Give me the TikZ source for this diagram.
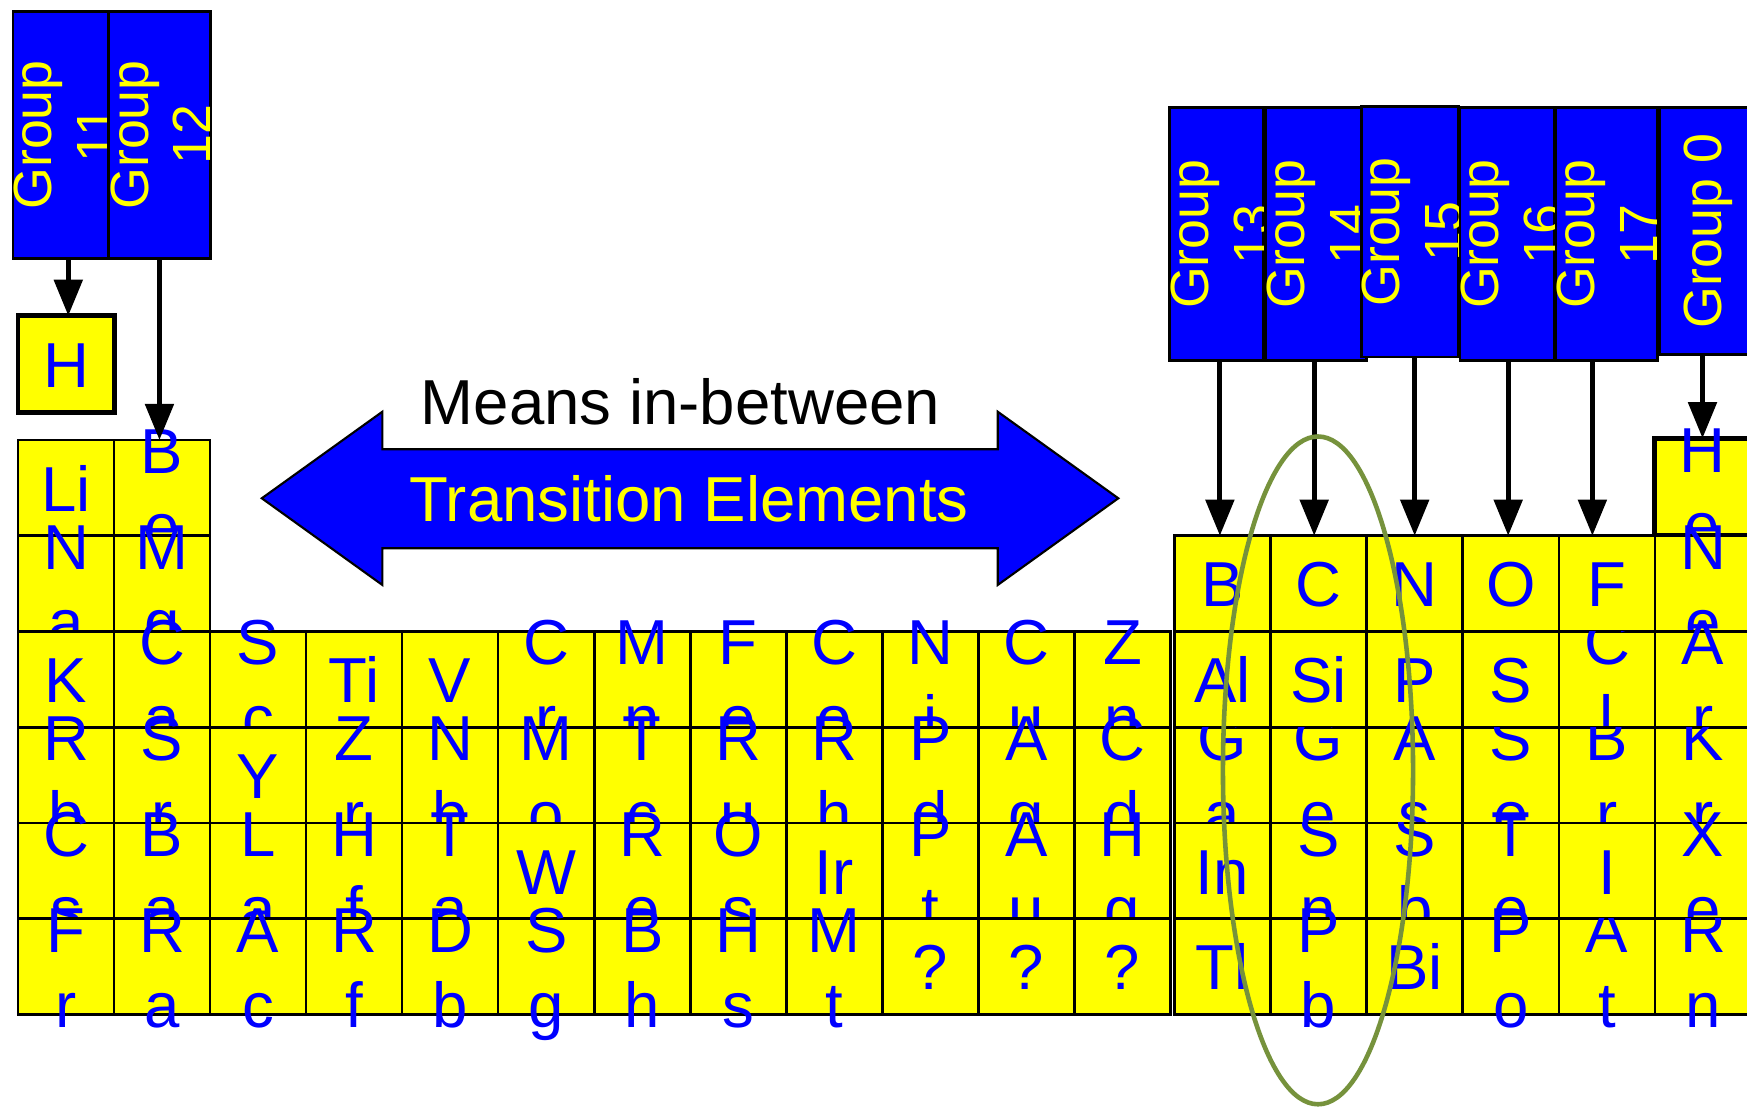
\documentclass[tikz,border=0pt]{standalone}
\usepackage{fontspec}
\usetikzlibrary{arrows.meta,calc}
\newfontfamily\arialf{Liberation Sans}
\definecolor{elblue}{HTML}{0000FF}
\definecolor{elyellow}{HTML}{FFFF00}
\definecolor{ovalgreen}{HTML}{76923C}
\newcommand\elfont{\arialf\fontsize{18.07}{21.6}\selectfont}
\newcommand\grfont{\arialf\fontsize{15.3}{18}\selectfont}
\tikzset{
  cell/.style={draw=black, fill=elyellow, line width=0.75pt, minimum width=0.961cm, minimum height=0.9575cm, inner sep=0pt, outer sep=0pt},
  thickcell/.style={cell, line width=1.3pt},
  sym/.style={anchor=base, inner sep=0pt, text=elblue, font=\elfont},
  grpbox/.style={draw=black, fill=elblue, line width=0.75pt, inner sep=0pt, outer sep=0pt},
  grptext/.style={rotate=90, anchor=base, inner sep=0pt, text=elyellow, font=\grfont},
  garrow/.style={draw=black, line width=1.45pt, -{Triangle[width=0.28cm,length=0.36cm]}},
  bigtext/.style={anchor=base, inner sep=0pt, font=\elfont},
}
% one-line symbol
\newcommand\cellOne[4]{%
  \node[cell] (#1) at (#2,#3) {};
  \node[sym] (#1-a) at (#2,#3+23.2) {#4};}
% symbol wrapped on two lines
\newcommand\cellTwo[5]{%
  \node[cell] (#1) at (#2,#3) {};
  \node[sym] (#1-a) at (#2,#3-14.6) {#4};
  \node[sym] (#1-b) at (#2,#3+61) {#5};}
% two lines, text hidden above the cell top
\newcommand\cellClip[5]{%
  \node[cell] (#1) at (#2,#3) {};
  \begin{scope}
    \clip (#2-48,#3-47.9) rectangle (#2+48,1110);
    \node[sym] (#1-a) at (#2,#3-14.6) {#4};
    \node[sym] (#1-b) at (#2,#3+61) {#5};
  \end{scope}}
\begin{document}
\begin{tikzpicture}[x=0.01cm, y=-0.01cm]
\useasboundingbox (0,0) rectangle (1747,1110);
\clip (0,0) rectangle (1747,1110);
\fill[white] (0,0) rectangle (1747,1110);

% ---------- group boxes ----------
\node[grpbox, minimum width=1.016cm, minimum height=2.474cm] (g11) at (63.7,135) {};
\node[grptext] (g11-a) at (51.7,135) {Group};
\node[grptext] (g11-b) at (114.5,135) {11};
\node[grpbox, minimum width=1.019cm, minimum height=2.474cm] (g12) at (159.45,135) {};
\node[grptext] (g12-a) at (148.3,135) {Group};
\node[grptext] (g12-b) at (210.7,135) {12};

\node[grpbox, minimum width=0.935cm, minimum height=2.526cm] (g13) at (1216.15,234.2) {};
\node[grptext] (g13-a) at (1208.7,234.2) {Group};
\node[grptext] (g13-b) at (1271.7,234.2) {13};
\node[grpbox, minimum width=1.013cm, minimum height=2.526cm] (g14) at (1315.95,234.2) {};
\node[grptext] (g14-a) at (1304.1,234.2) {Group};
\node[grptext] (g14-b) at (1367.1,234.2) {14};
\node[grpbox, minimum width=0.968cm, minimum height=2.502cm] (g15) at (1409.9,232) {};
\node[grptext] (g15-a) at (1399.6,232) {Group};
\node[grptext] (g15-b) at (1462.6,232) {15};
\node[grpbox, minimum width=0.938cm, minimum height=2.526cm] (g16) at (1506.9,234.2) {};
\node[grptext] (g16-a) at (1498.8,234.2) {Group};
\node[grptext] (g16-b) at (1561.8,234.2) {16};
\node[grpbox, minimum width=1.013cm, minimum height=2.526cm] (g17) at (1606.85,234.2) {};
\node[grptext] (g17-a) at (1594.3,234.2) {Group};
\node[grptext] (g17-b) at (1657.3,234.2) {17};
\node[grpbox, minimum width=1.101cm, minimum height=2.466cm] (g0) at (1714.95,231.2) {};
\node[grptext] (g0-a) at (1721.6,231.2) {Group 0};

% ---------- transition arrow ----------
\draw[fill=elblue, draw=black, line width=0.6pt]
  (261.8,498.3) -- (382.4,411.7) -- (382.4,449.3) -- (997.7,449.3) -- (997.7,411.7)
  -- (1118.3,498.3) -- (997.7,585) -- (997.7,548.3) -- (382.4,548.3) -- (382.4,585) -- cycle;
\node[bigtext, text=black] (means) at (680.6,425) {Means in-between};
\node[bigtext, text=elyellow] (trans) at (689,521.7) {Transition Elements};

% ---------- H and He ----------
\node[thickcell, minimum width=0.96cm, minimum height=0.967cm] (H) at (66.2,364.15) {};
\node[sym] (H-a) at (66.2,387.4) {H};
\node[thickcell, minimum width=0.96cm, minimum height=0.9745cm] (He) at (1702.5,487) {};
\node[sym] (He-a) at (1702.5,472.4) {H};
\node[sym] (He-b) at (1702.5,548) {e};

% ---------- row 0 ----------
\cellOne{Li}{66.02}{487.875}{Li}
\cellTwo{Be}{162.06}{487.875}{B}{e}
% ---------- row 1 ----------
\cellTwo{Na}{66.02}{583.625}{N}{a}
\cellTwo{Mg}{162.06}{583.625}{M}{g}
\cellOne{B}{1222.4}{583.625}{B}
\cellOne{C}{1318.5}{583.625}{C}
\cellOne{N}{1414.7}{583.625}{N}
\cellOne{O}{1510.8}{583.625}{O}
\cellOne{F}{1607.0}{583.625}{F}
\cellTwo{Ne}{1703.1}{583.625}{N}{e}
% ---------- row 2 ----------
\cellOne{K}{66.02}{679.375}{K}
\cellTwo{Ca}{162.06}{679.375}{C}{a}
\cellTwo{Sc}{258.10}{679.375}{S}{c}
\cellOne{Ti}{354.14}{679.375}{Ti}
\cellOne{V}{450.18}{679.375}{V}
\cellTwo{Cr}{546.22}{679.375}{C}{r}
\cellTwo{Mn}{642.26}{679.375}{M}{n}
\cellTwo{Fe}{738.30}{679.375}{F}{e}
\cellTwo{Co}{834.34}{679.375}{C}{o}
\cellTwo{Ni}{930.38}{679.375}{N}{i}
\cellTwo{Cu}{1026.42}{679.375}{C}{u}
\cellTwo{Zn}{1122.46}{679.375}{Z}{n}
\cellOne{Al}{1222.4}{679.375}{Al}
\cellOne{Si}{1318.5}{679.375}{Si}
\cellOne{P}{1414.7}{679.375}{P}
\cellOne{S}{1510.8}{679.375}{S}
\cellClip{Cl}{1607.0}{679.375}{C}{l}
\cellTwo{Ar}{1703.1}{679.375}{A}{r}
% ---------- row 3 ----------
\cellTwo{Rb}{66.02}{775.125}{R}{b}
\cellTwo{Sr}{162.06}{775.125}{S}{r}
\cellOne{Y}{258.10}{775.125}{Y}
\cellTwo{Zr}{354.14}{775.125}{Z}{r}
\cellTwo{Nb}{450.18}{775.125}{N}{b}
\cellTwo{Mo}{546.22}{775.125}{M}{o}
\cellTwo{Tc}{642.26}{775.125}{T}{c}
\cellTwo{Ru}{738.30}{775.125}{R}{u}
\cellTwo{Rh}{834.34}{775.125}{R}{h}
\cellTwo{Pd}{930.38}{775.125}{P}{d}
\cellTwo{Ag}{1026.42}{775.125}{A}{g}
\cellTwo{Cd}{1122.46}{775.125}{C}{d}
\cellClip{Ga}{1222.4}{775.125}{G}{a}
\cellClip{Ge}{1318.5}{775.125}{G}{e}
\cellTwo{As}{1414.7}{775.125}{A}{s}
\cellClip{Se}{1510.8}{775.125}{S}{e}
\cellClip{Br}{1607.0}{775.125}{B}{r}
\cellClip{Kr}{1703.1}{775.125}{K}{r}
% ---------- row 4 ----------
\cellTwo{Cs}{66.02}{870.875}{C}{s}
\cellTwo{Ba}{162.06}{870.875}{B}{a}
\cellTwo{La}{258.10}{870.875}{L}{a}
\cellTwo{Hf}{354.14}{870.875}{H}{f}
\cellTwo{Ta}{450.18}{870.875}{T}{a}
\cellOne{W}{546.22}{870.875}{W}
\cellTwo{Re}{642.26}{870.875}{R}{e}
\cellTwo{Os}{738.30}{870.875}{O}{s}
\cellOne{Ir}{834.34}{870.875}{Ir}
\cellTwo{Pt}{930.38}{870.875}{P}{t}
\cellTwo{Au}{1026.42}{870.875}{A}{u}
\cellTwo{Hg}{1122.46}{870.875}{H}{g}
\cellOne{In}{1222.4}{870.875}{In}
\cellClip{Sn}{1318.5}{870.875}{S}{n}
\cellClip{Sb}{1414.7}{870.875}{S}{b}
\cellTwo{Te}{1510.8}{870.875}{T}{e}
\cellOne{I}{1607.0}{870.875}{I}
\cellTwo{Xe}{1703.1}{870.875}{X}{e}
% ---------- row 5 ----------
\cellTwo{Fr}{66.02}{966.625}{F}{r}
\cellTwo{Ra}{162.06}{966.625}{R}{a}
\cellTwo{Ac}{258.10}{966.625}{A}{c}
\cellTwo{Rf}{354.14}{966.625}{R}{f}
\cellTwo{Db}{450.18}{966.625}{D}{b}
\cellTwo{Sg}{546.22}{966.625}{S}{g}
\cellTwo{Bh}{642.26}{966.625}{B}{h}
\cellTwo{Hs}{738.30}{966.625}{H}{s}
\cellTwo{Mt}{834.34}{966.625}{M}{t}
\cellOne{q1}{930.38}{966.625}{?}
\cellOne{q2}{1026.42}{966.625}{?}
\cellOne{q3}{1122.46}{966.625}{?}
\cellOne{Tl}{1222.4}{966.625}{Tl}
\cellTwo{Pb}{1318.5}{966.625}{P}{b}
\cellOne{Bi}{1414.7}{966.625}{Bi}
\cellTwo{Po}{1510.8}{966.625}{P}{o}
\cellClip{At}{1607.0}{966.625}{A}{t}
\cellClip{Rn}{1703.1}{966.625}{R}{n}

% ---------- group arrows ----------
\draw[garrow] ($(g11.south -| H.north)+(2.1,0)$) -- ($(H.north)+(2.1,0)$);
\draw[garrow] (g12.south) -- (g12.south |- Be.north);
\draw[garrow] ($(g13.south -| B.north)+(-2.5,0)$) -- ($(B.north)+(-2.5,0)$);
\draw[garrow] ($(g14.south -| C.north)+(-4.3,0)$) -- ($(C.north)+(-4.3,0)$);
\draw[garrow] (g15.south -| N.north) -- (N.north);
\draw[garrow] ($(g16.south -| O.north)+(-2.6,0)$) -- ($(O.north)+(-2.6,0)$);
\draw[garrow] ($(g17.south -| F.north)+(-14.6,0)$) -- ($(F.north)+(-14.6,0)$);
\draw[garrow] (g0.south -| He.north) -- (He.north);

% ---------- oval round the carbon group ----------
\draw[ovalgreen, line width=1.3pt] (1318,770.4) ellipse [x radius=0.95cm, y radius=3.337cm];
\end{tikzpicture}
\end{document}
